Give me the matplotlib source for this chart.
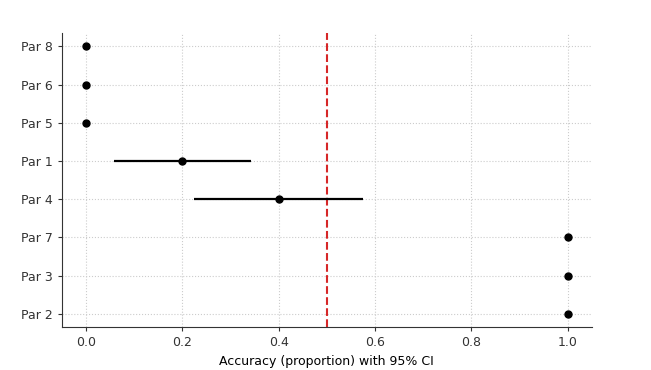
import matplotlib
matplotlib.use('Agg')
import matplotlib.pyplot as plt

# participants, top to bottom
labels = ['Par 8', 'Par 6', 'Par 5', 'Par 1', 'Par 4', 'Par 7', 'Par 3', 'Par 2']
accuracy = [0.0, 0.0, 0.0, 0.2, 0.4, 1.0, 1.0, 1.0]
ci_low = [0.0, 0.0, 0.0, 0.058, 0.224, 1.0, 1.0, 1.0]
ci_high = [0.0, 0.0, 0.0, 0.342, 0.575, 1.0, 1.0, 1.0]

ypos = list(range(len(labels)))[::-1]
xerr = [[a - lo for a, lo in zip(accuracy, ci_low)],
        [hi - a for a, hi in zip(accuracy, ci_high)]]

fig = plt.figure(figsize=(6.51, 3.70), dpi=100)
ax = fig.add_axes([0.095, 0.116, 0.814, 0.795])

ax.errorbar(accuracy, ypos, xerr=xerr, fmt='o', color='black',
            ecolor='black', elinewidth=1.6, markersize=5, capsize=0, zorder=3)
ax.axvline(0.5, color='#d62728', linestyle='--', linewidth=1.5, zorder=2)

ax.set_yticks(ypos)
ax.set_yticklabels(labels)
ax.set_xlim(-0.05, 1.05)
ax.set_ylim(-0.35, 7.35)
ax.set_xlabel('Accuracy (proportion) with 95% CI', fontsize=9)
ax.tick_params(labelsize=9, length=3, colors='#333333')
ax.grid(True, linestyle=':', color='#cccccc', linewidth=0.8)
ax.set_axisbelow(True)
for s in ['top', 'right']:
    ax.spines[s].set_visible(False)
ax.spines['left'].set_color('#333333')
ax.spines['bottom'].set_color('#333333')

fig.savefig('out.png', dpi=100)
